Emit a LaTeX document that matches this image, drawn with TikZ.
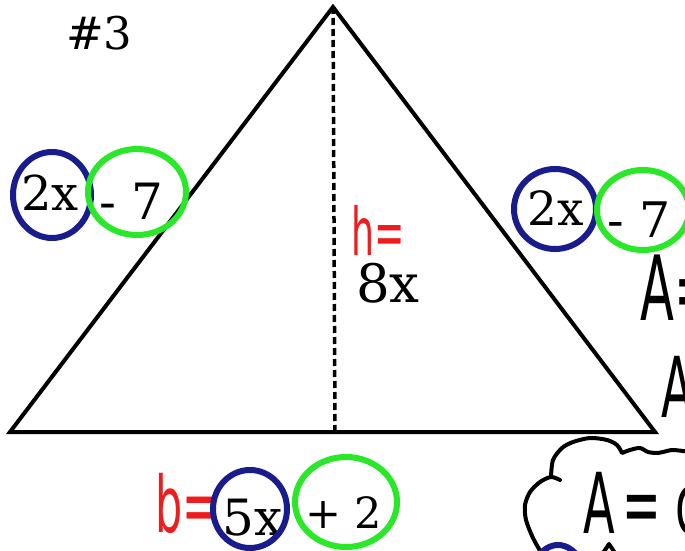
\documentclass[tikz,border=0pt]{standalone}
\usepackage{fontspec}
\usepackage{graphicx,xcolor}
\newfontfamily\printfont{DejaVu Serif}
\newfontfamily\handfont{DejaVu Sans}[FakeStretch=0.55]
\newcommand\fsz[1]{\fontsize{#1}{#1}\selectfont}
\definecolor{penblue}{RGB}{25,28,140}
\definecolor{pengreen}{RGB}{40,232,40}
\definecolor{penred}{RGB}{238,28,28}
\begin{document}
\begin{tikzpicture}[x=1pt,y=-1pt,
edge/.style={line width=4pt,line join=miter},
altitude/.style={line width=3.5pt,dash pattern=on 7pt off 4pt},
print/.style={inner sep=0pt,anchor=base west,font=\printfont},
hand/.style={inner sep=0pt,anchor=base west,font=\handfont},
ring/.style={line width=6pt},
cloudline/.style={line width=4pt,line cap=round,line join=round}]
\useasboundingbox (0,0) rectangle (685,551);
\fill[white] (0,0) rectangle (685,551);
\clip (0,0) rectangle (685,551);
\coordinate (apex) at (333,7);\coordinate (left) at (10,432);
\coordinate (right) at (655,432);\coordinate (foot) at (335,432);
\draw[edge] (left)--(apex)--(right)--cycle;
\draw[altitude] (apex)--(foot);
\node[print] (num) at (66,50) {\fsz{45}\#3};
\node[print] (lcoef) at (21,210) {\fsz{48}2x};
\node[print] (lconst) at (99,219) {\fsz{50}- 7};
\draw[ring,penblue] (52,195) ellipse [x radius=39,y radius=43];
\draw[ring,pengreen] (137,192) ellipse [x radius=49,y radius=43];
\node[print] (rcoef) at (527,225) {\fsz{47}2x};
\node[print] (rconst) at (607,237) {\fsz{49}- 7};
\draw[ring,penblue] (555,209) ellipse [x radius=41,y radius=40];
\draw[ring,pengreen] (643,210) ellipse [x radius=46,y radius=40];
\node[hand,text=penred] (hlab) at (351,255) {\fsz{66}h=};
\node[print] (hval) at (356,302) {\fsz{53}8x};
\node[hand,text=penred] (blab) at (155,532) {\fsz{78}b=};
\node[print] (bcoef) at (222,535) {\fsz{50}5x};
\node[print] (bconst) at (305,528) {\fsz{43}+ 2};
\draw[ring,penblue] (250,509) ellipse [x radius=37,y radius=39];
\draw[ring,pengreen] (346,502) ellipse [x radius=51,y radius=45];
\node[hand] (areaone) at (640,320) {\fsz{90}A=};
\node[hand] (areatwo) at (661,417) {\fsz{84}A};
\draw[cloudline] plot[smooth] coordinates {(542,554) (533,538) (526,520) (525,505) (530,492) (540,482) (551,477) (560,480)}
  (551,477) -- plot[smooth] coordinates {(551,477) (553,460) (562,448) (573,442) (590,438) (607,440) (617,445) (622,453)}
  -- plot[smooth] coordinates {(622,453) (630,450) (640,448) (648,452) (657,453) (663,452) (673,450) (690,452)};
\node[hand] (cloudtext) at (583,533) {\fsz{84}A\hspace{8pt}=\hspace{14pt}c};
\draw[ring,penblue] (558,590) ellipse [x radius=30,y radius=45];
\draw[cloudline] (603,553)--(609,544)--(615,553);
\end{tikzpicture}
\end{document}
